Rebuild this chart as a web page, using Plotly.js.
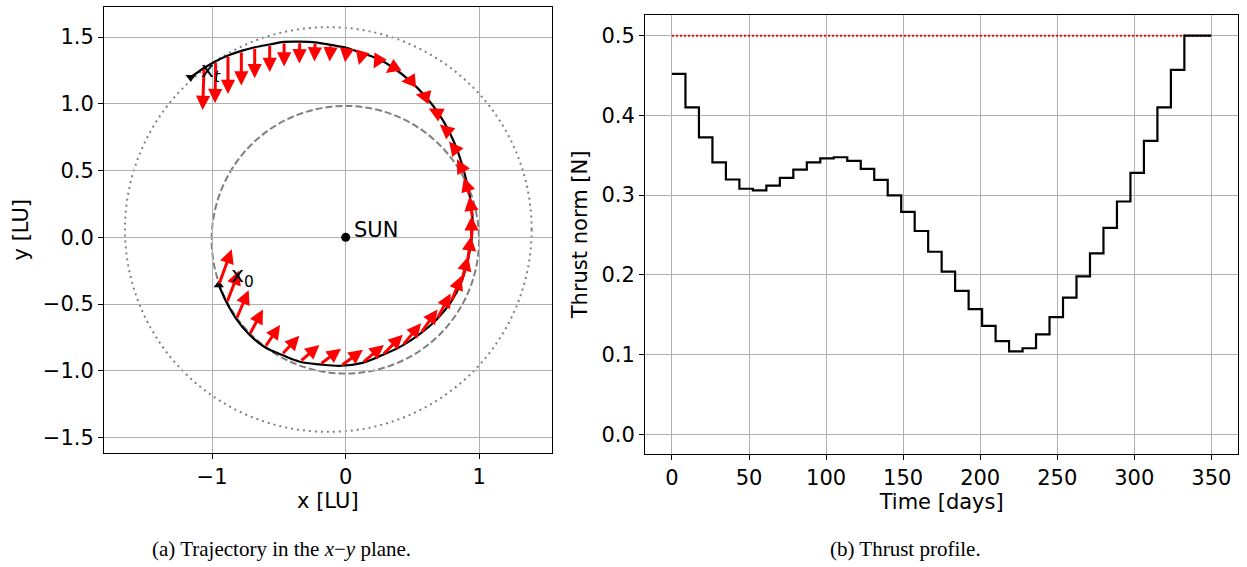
<!DOCTYPE html>
<html><head><meta charset="utf-8">
<script src="https://cdn.plot.ly/plotly-3.0.1.min.js"></script>
<style>html,body{margin:0;padding:0;background:#fff}#chart{width:1247px;height:567px}</style>
</head><body><div id="chart"></div>
<script>
// ---------- DATA ----------
// Time grid of the thrust arcs [days]
const timeDays = [0, 8.75, 17.5, 26.25, 35, 43.75, 52.5, 61.25, 70, 78.75, 87.5, 96.25, 105, 113.75,
  122.5, 131.25, 140, 148.75, 157.5, 166.25, 175, 183.75, 192.5, 201.25, 210, 218.75, 227.5, 236.25,
  245, 253.75, 262.5, 271.25, 280, 288.75, 297.5, 306.25, 315, 323.75, 332.5, 341.25, 350];
// Thrust norm on each arc [N]
const thrustN = [0.452, 0.410, 0.3725, 0.341, 0.3196, 0.308, 0.306, 0.312, 0.3217, 0.332,
  0.341, 0.346, 0.3475, 0.343, 0.333, 0.319, 0.2996, 0.279, 0.255, 0.229,
  0.204, 0.180, 0.157, 0.136, 0.117, 0.104, 0.108, 0.1255, 0.147, 0.1715,
  0.198, 0.227, 0.259, 0.292, 0.328, 0.368, 0.410, 0.457, 0.500, 0.500];
const thrustMaxN = 0.5;
// Spacecraft position at the start of each arc (and final point) [LU]
const trajX = [-0.950, -0.890, -0.818, -0.720, -0.604, -0.479, -0.342, -0.192, -0.035, 0.125,
  0.275, 0.424, 0.561, 0.684, 0.789, 0.865, 0.912, 0.942, 0.949, 0.928,
  0.892, 0.844, 0.780, 0.698, 0.597, 0.481, 0.356, 0.248, 0.123, 0.010,
  -0.112, -0.229, -0.344, -0.461, -0.569, -0.681, -0.781, -0.881, -0.973, -1.060, -1.160];
const trajY = [-0.357, -0.490, -0.612, -0.730, -0.823, -0.880, -0.932, -0.952, -0.962, -0.940,
  -0.882, -0.811, -0.720, -0.611, -0.483, -0.338, -0.180, -0.018, 0.146, 0.310,
  0.471, 0.629, 0.781, 0.925, 1.055, 1.172, 1.270, 1.333, 1.379, 1.418,
  1.441, 1.460, 1.465, 1.463, 1.444, 1.423, 1.396, 1.361, 1.319, 1.268, 1.199];
// Thrust direction on each arc [deg from +x]
const thrustAngleDeg = [70, 69, 67, 62, 56, 47, 41, 37, 36, 40,
  45, 50, 55, 62, 68, 75, 82, 90, 98, 107,
  117, 128, 140, 153, 168, 185, 215, 240, 255, 262,
  266, 268, 269, 270, 270, 270, 270, 270, 269, 268];
// Orbits (bounding boxes) [LU]
const earthOrbitX = [-1.003, 0.998];
const earthOrbitY = [-1.020, 0.984];
const marsOrbitX = [-1.652, 1.392];
const marsOrbitY = [-1.457, 1.574];
const sunXY = [0, 0];
const xTicksLeft = [-1, 0, 1];
const yTicksLeft = [-1.5, -1.0, -0.5, 0.0, 0.5, 1.0, 1.5];
const xTicksRight = [0, 50, 100, 150, 200, 250, 300, 350];
const yTicksRight = [0.0, 0.1, 0.2, 0.3, 0.4, 0.5];

// ---------- STYLE ----------
const LU_PER_N = 0.63;
const FONT = 'DejaVu Sans, sans-serif';
const FS = 21;
const GRID = '#b0b0b0';

const stepY = thrustN.concat([thrustN[thrustN.length - 1]]);
const n = timeDays.length;

const traces = [
  { x: trajX, y: trajY, xaxis: 'x', yaxis: 'y', mode: 'lines', line: { color: '#000', width: 2.2, shape: 'spline', smoothing: 1 }, hoverinfo: 'skip' },
  { x: [trajX[0]], y: [trajY[0]], xaxis: 'x', yaxis: 'y', mode: 'markers', marker: { symbol: 'triangle-up', size: 9, color: '#000' }, hoverinfo: 'skip' },
  { x: [trajX[n - 1]], y: [trajY[n - 1]], xaxis: 'x', yaxis: 'y', mode: 'markers', marker: { symbol: 'triangle-down', size: 9, color: '#000' }, hoverinfo: 'skip' },
  { x: [sunXY[0]], y: [sunXY[1]], xaxis: 'x', yaxis: 'y', mode: 'markers', marker: { symbol: 'circle', size: 9, color: '#000' }, hoverinfo: 'skip' },
  { x: [timeDays[0], timeDays[n - 1]], y: [thrustMaxN, thrustMaxN], xaxis: 'x2', yaxis: 'y2', mode: 'lines', line: { color: 'red', width: 2, dash: '2px,2px' }, hoverinfo: 'skip' },
  { x: timeDays, y: stepY, xaxis: 'x2', yaxis: 'y2', mode: 'lines', line: { color: '#000', width: 2.2, shape: 'hv' }, hoverinfo: 'skip' }
];

const annotations = [];
for (let k = 0; k < thrustN.length; k++) {
  const a = thrustAngleDeg[k] * Math.PI / 180;
  const L = thrustN[k] * LU_PER_N;
  annotations.push({
    xref: 'x', yref: 'y', axref: 'x', ayref: 'y',
    ax: trajX[k], ay: trajY[k],
    x: trajX[k] + L * Math.cos(a), y: trajY[k] + L * Math.sin(a),
    text: '', showarrow: true, arrowhead: 2, arrowsize: 0.95, arrowwidth: 3, arrowcolor: '#ff0000'
  });
}
annotations.push(
  { xref: 'x', yref: 'y', x: trajX[0] + 0.08, y: trajY[0] + 0.06, text: 'x<sub>0</sub>', showarrow: false, xanchor: 'left', yanchor: 'middle', font: { family: FONT, size: 22, color: '#000' } },
  { xref: 'x', yref: 'y', x: trajX[n - 1] + 0.06, y: trajY[n - 1] + 0.04, text: 'x<sub><i>t</i></sub>', showarrow: false, xanchor: 'left', yanchor: 'middle', font: { family: FONT, size: 22, color: '#000' } },
  { xref: 'x', yref: 'y', x: sunXY[0] + 0.05, y: sunXY[1] + 0.055, text: 'SUN', showarrow: false, xanchor: 'left', yanchor: 'middle', font: { family: FONT, size: FS, color: '#000' } },
  { xref: 'paper', yref: 'paper', x: 281 / 1247, y: 1 - 549 / 567, text: '(a) Trajectory in the <i>x</i>\u2212<i>y</i> plane.', showarrow: false, xanchor: 'center', yanchor: 'middle', font: { family: 'Liberation Serif, Times New Roman, serif', size: 21, color: '#000' } },
  { xref: 'paper', yref: 'paper', x: 905 / 1247, y: 1 - 549 / 567, text: '(b) Thrust profile.', showarrow: false, xanchor: 'center', yanchor: 'middle', font: { family: 'Liberation Serif, Times New Roman, serif', size: 21, color: '#000' } }
);

const shapes = [
  { type: 'circle', xref: 'x', yref: 'y', x0: earthOrbitX[0], x1: earthOrbitX[1], y0: earthOrbitY[0], y1: earthOrbitY[1], line: { color: '#808080', width: 2, dash: '7px,3px' }, layer: 'below' },
  { type: 'circle', xref: 'x', yref: 'y', x0: marsOrbitX[0], x1: marsOrbitX[1], y0: marsOrbitY[0], y1: marsOrbitY[1], line: { color: '#808080', width: 2, dash: '2px,4px' }, layer: 'below' }
];

function axisBase() {
  return {
    showgrid: true, gridcolor: GRID, gridwidth: 1, zeroline: false,
    showline: true, linecolor: '#000', linewidth: 1, mirror: true,
    ticks: 'outside', ticklen: 5, tickwidth: 1, tickcolor: '#000',
    tickfont: { family: FONT, size: FS, color: '#000' },
    automargin: false, fixedrange: true
  };
}

const layout = {
  width: 1247, height: 567, margin: { l: 0, r: 0, t: 0, b: 0 },
  paper_bgcolor: '#fff', plot_bgcolor: '#fff', showlegend: false,
  font: { family: FONT, size: FS, color: '#000' },
  xaxis: Object.assign(axisBase(), { domain: [104 / 1247, 551.7 / 1247], range: [-1.809, 1.542], tickmode: 'array', tickvals: xTicksLeft, ticktext: ['\u22121', '0', '1'], anchor: 'y',
    title: { text: 'x [LU]', font: { family: FONT, size: FS, color: '#000' }, standoff: 2 } }),
  yaxis: Object.assign(axisBase(), { domain: [1 - 452.7 / 567, 1 - 6.7 / 567], range: [-1.613, 1.727], tickmode: 'array', tickvals: yTicksLeft, tickformat: '.1f', anchor: 'x',
    title: { text: 'y [LU]', font: { family: FONT, size: FS, color: '#000' }, standoff: 8 } }),
  xaxis2: Object.assign(axisBase(), { domain: [645 / 1247, 1238.3 / 1247], range: [-17.5, 367.5], tickmode: 'array', tickvals: xTicksRight, anchor: 'y2',
    title: { text: 'Time [days]', font: { family: FONT, size: FS, color: '#000' }, standoff: 2 } }),
  yaxis2: Object.assign(axisBase(), { domain: [1 - 453.5 / 567, 1 - 15.3 / 567], range: [-0.024, 0.5255], tickmode: 'array', tickvals: yTicksRight, tickformat: '.1f', anchor: 'x2',
    title: { text: 'Thrust norm [N]', font: { family: FONT, size: FS, color: '#000' }, standoff: 8 } }),
  shapes: shapes,
  annotations: annotations
};

Plotly.newPlot('chart', traces, layout, { displayModeBar: false, staticPlot: true });
</script>
</body></html>
